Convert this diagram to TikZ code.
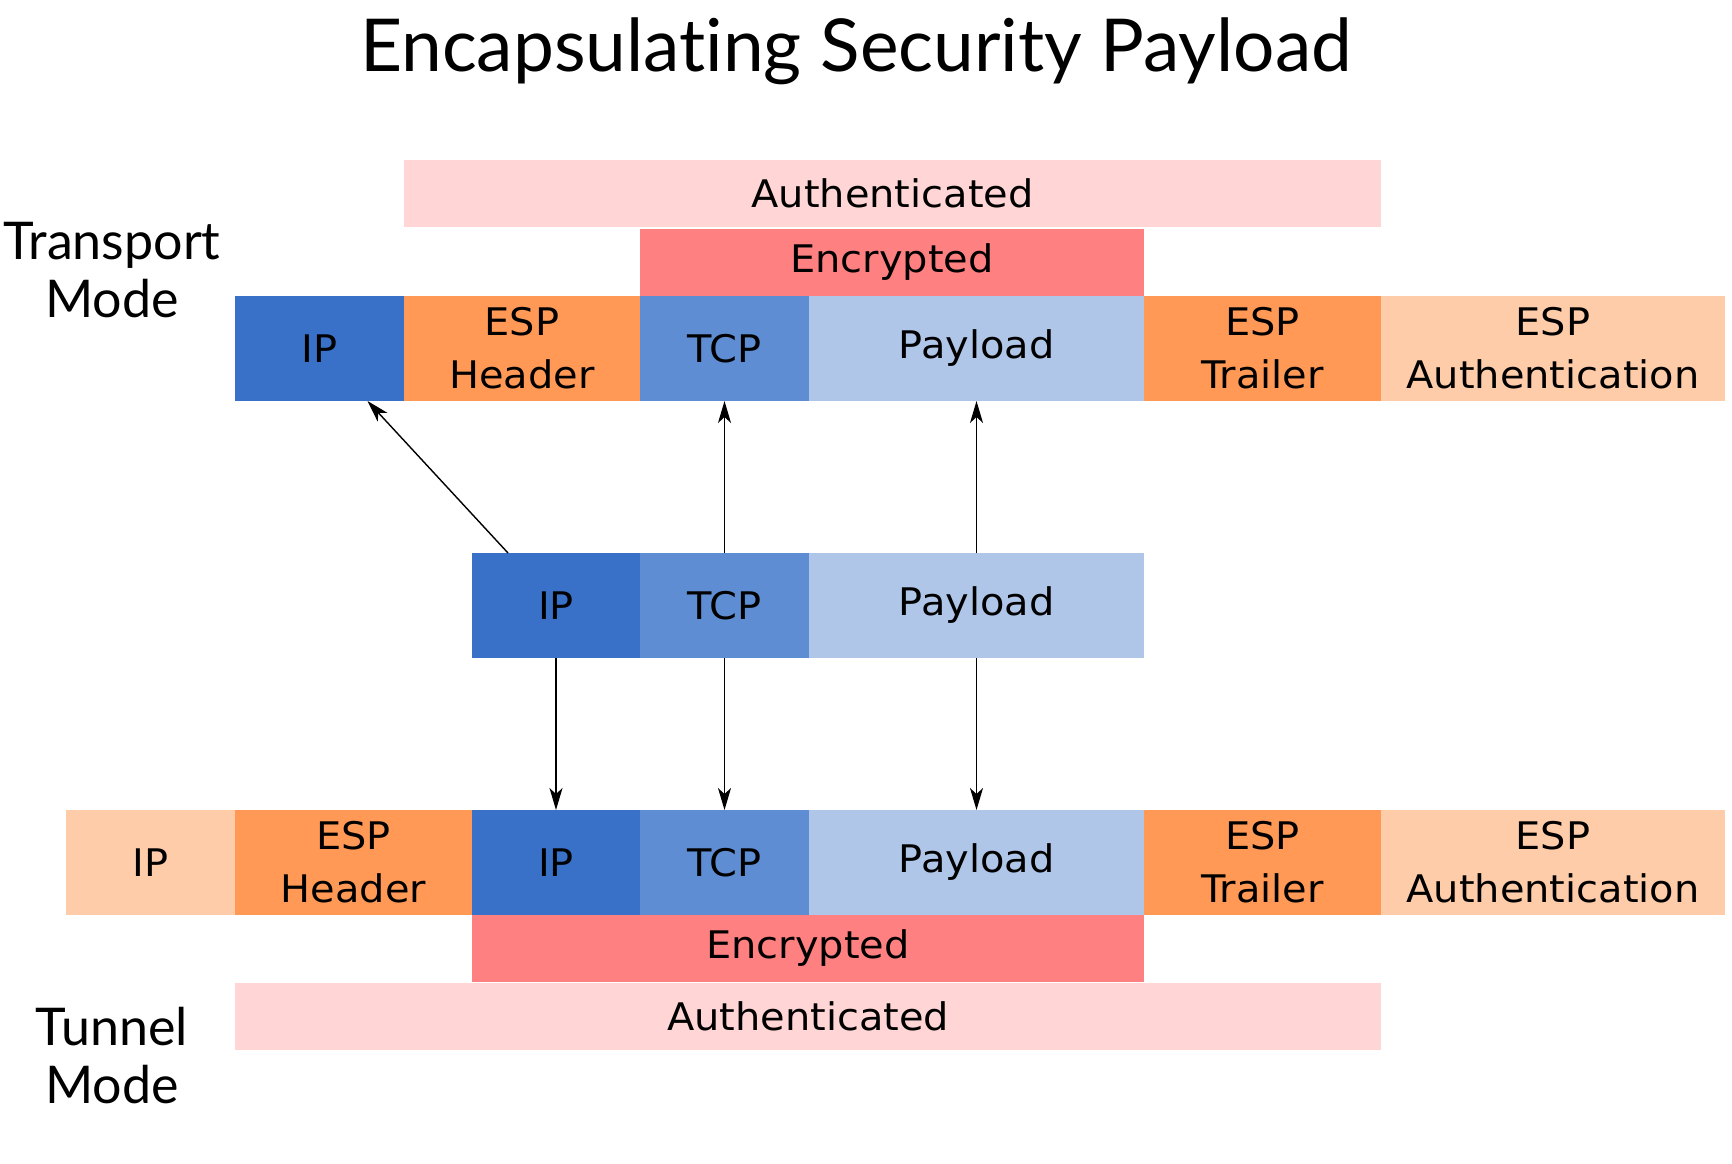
\documentclass[tikz,border=0pt]{standalone}
\usepackage{fontspec}
\setmainfont[Ligatures=NoCommon]{Lato}
\newfontfamily\boxfont[FakeStretch=1.05]{DejaVu Sans}
\usetikzlibrary{arrows.meta,positioning,calc}

\definecolor{ipblue}{HTML}{3A71C8}
\definecolor{tcpblue}{HTML}{5F8DD3}
\definecolor{loadblue}{HTML}{AFC6E9}
\definecolor{espor}{HTML}{FF9955}
\definecolor{esplight}{HTML}{FFCCAA}
\definecolor{encred}{HTML}{FF8080}
\definecolor{authpink}{HTML}{FFD5D5}

\begin{document}
\begin{tikzpicture}[x=1pt, y=-1pt,
	cell/.style={minimum height=105pt, inner sep=0pt, outer sep=0pt, align=center, font=\boxfont\fontsize{38}{53}\selectfont},
	band/.style={cell, minimum height=67pt},
	modelbl/.style={align=center, font=\fontsize{52}{58}\selectfont},
	arr/.style={-{Stealth[length=22pt, width=13pt, inset=6pt]}, line width=1.4pt}]
	\useasboundingbox (0,0) rectangle (1732,1164);
	\node[font=\fontsize{73}{73}\selectfont, anchor=base] (title) at (856,72) {Encapsulating Security Payload};
	% transport mode
	\node[modelbl] (tmode) at (112,270) {Transport\\Mode};
	\node[cell, fill=ipblue, minimum width=169pt] (tip) at (319.5,348.5) {IP};
	\node[cell, fill=espor, minimum width=236pt, right=0pt of tip] (tesph) {ESP\\Header};
	\node[cell, fill=tcpblue, minimum width=169pt, right=0pt of tesph] (ttcp) {TCP};
	\node[cell, fill=loadblue, minimum width=335pt, right=0pt of ttcp] (tload) {Payload};
	\node[cell, fill=espor, minimum width=237pt, right=0pt of tload] (tespt) {ESP\\Trailer};
	\node[cell, fill=esplight, minimum width=344pt, right=0pt of tespt] (tespa) {ESP\\Authentication};
	\node[band, fill=encred, minimum width=504pt, anchor=south west] (tenc) at (ttcp.north west) {Encrypted};
	\node[band, fill=authpink, minimum width=977pt, anchor=south west] (tauth) at ([yshift=2pt]tenc.north -| tesph.west) {Authenticated};
	% original packet
	\node[cell, fill=ipblue, minimum width=168pt] (mip) at (556,605.5) {IP};
	\node[cell, fill=tcpblue, minimum width=169pt, right=0pt of mip] (mtcp) {TCP};
	\node[cell, fill=loadblue, minimum width=335pt, right=0pt of mtcp] (mload) {Payload};
	% tunnel mode
	\node[cell, fill=esplight, minimum width=169pt] (uoip) at (150.5,862.5) {IP};
	\node[cell, fill=espor, minimum width=237pt, right=0pt of uoip] (uesph) {ESP\\Header};
	\node[cell, fill=ipblue, minimum width=168pt, right=0pt of uesph] (uip) {IP};
	\node[cell, fill=tcpblue, minimum width=169pt, right=0pt of uip] (utcp) {TCP};
	\node[cell, fill=loadblue, minimum width=335pt, right=0pt of utcp] (uload) {Payload};
	\node[cell, fill=espor, minimum width=237pt, right=0pt of uload] (uespt) {ESP\\Trailer};
	\node[cell, fill=esplight, minimum width=344pt, right=0pt of uespt] (uespa) {ESP\\Authentication};
	\node[band, fill=encred, minimum width=672pt, anchor=north west] (uenc) at (uip.south west) {Encrypted};
	\node[band, fill=authpink, minimum width=1146pt, anchor=north west] (uauth) at ([yshift=-1pt]uenc.south -| uesph.west) {Authenticated};
	\node[modelbl] (umode) at (112,1056) {Tunnel\\Mode};
	% arrows
	\draw[arr] ([xshift=-48pt]mip.north) -- ([xshift=48pt]tip.south);
	\draw[arr] (mtcp.north) -- (ttcp.south);
	\draw[arr] (mload.north) -- (tload.south);
	\draw[arr] (mip.south) -- (uip.north);
	\draw[arr] (mtcp.south) -- (utcp.north);
	\draw[arr] (mload.south) -- (uload.north);
\end{tikzpicture}
\end{document}
